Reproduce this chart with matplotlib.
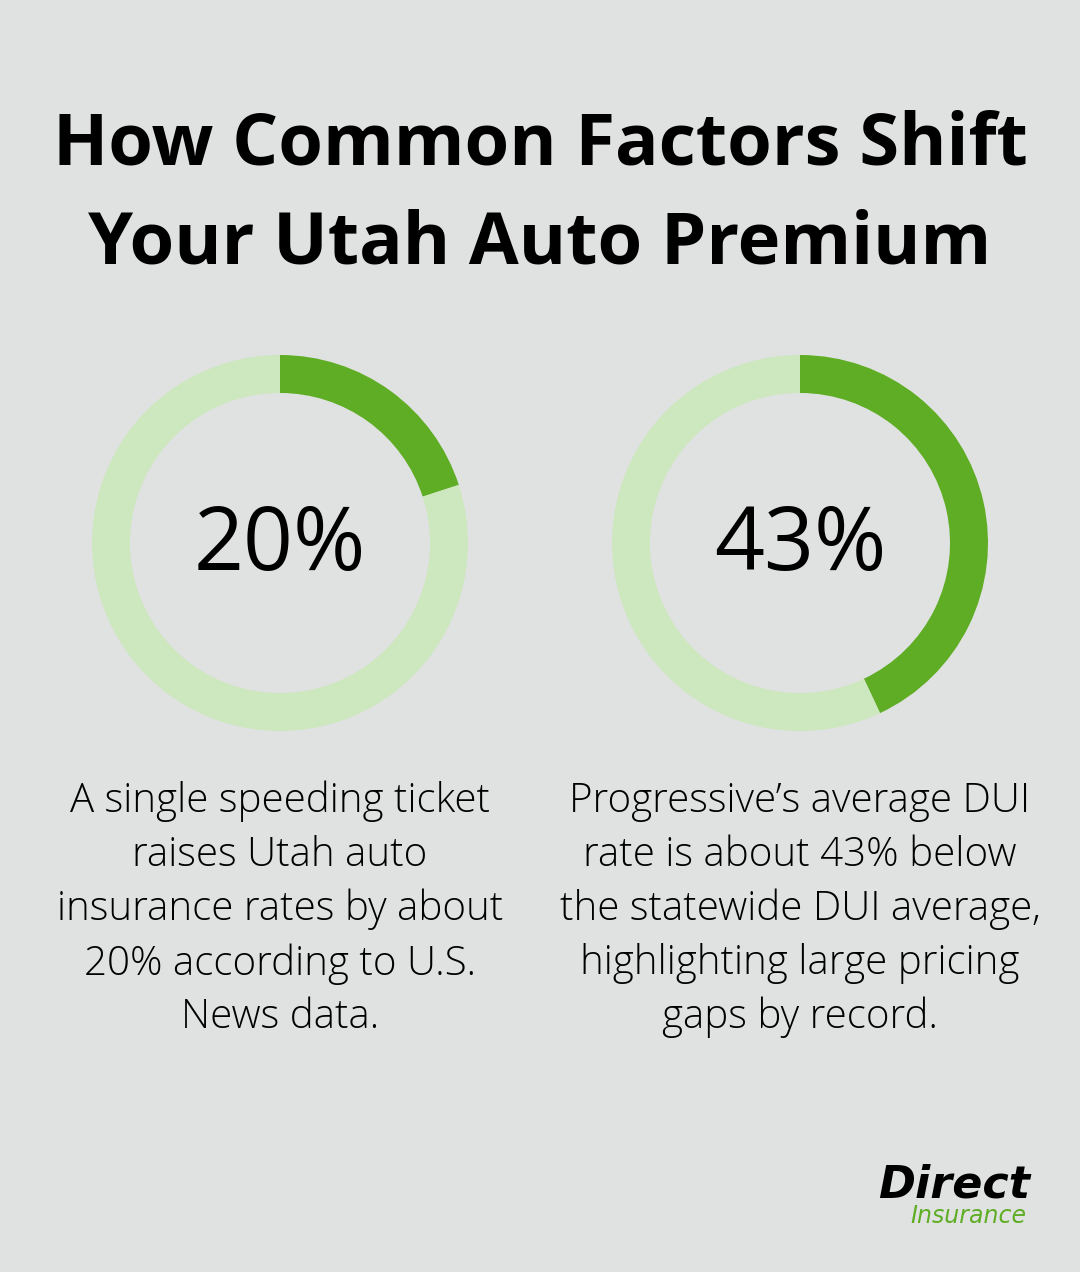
import matplotlib
matplotlib.use("Agg")
import matplotlib.pyplot as plt

title = "How Common Factors Shift\nYour Utah Auto Premium"
percents = [20, 43]
labels = ["20%", "43%"]
captions = [
    "A single speeding ticket\nraises Utah auto\ninsurance rates by about\n20% according to U.S.\nNews data.",
    "Progressive\u2019s average DUI\nrate is about 43% below\nthe statewide DUI average,\nhighlighting large pricing\ngaps by record.",
]

bg = "#e0e2e1"
green = "#5fad24"
light = "#cde7be"

W, H = 1080, 1272
fig = plt.figure(figsize=(W / 100, H / 100), dpi=100, facecolor=bg)
ax = fig.add_axes([0, 0, 1, 1])

ax.text(540, H - 195, title, ha="center", va="center", fontsize=52,
        fontweight="bold", family="Open Sans", linespacing=1.48)

centers = [280, 800]
for cx, p, lab, cap in zip(centers, percents, labels, captions):
    ax.pie([p, 100 - p], colors=[green, light], startangle=90,
           counterclock=False, center=(cx, H - 543), radius=188,
           wedgeprops=dict(width=38, linewidth=0), frame=True)
    ax.text(cx, H - 547, lab, ha="center", va="center", fontsize=63,
            family="Open Sans", fontweight="medium")
    ax.text(cx, H - 909.5, cap, ha="center", va="center", fontsize=29,
            family="Open Sans", fontweight="light", linespacing=1.41)

ax.set_xlim(0, W)
ax.set_ylim(0, H)
ax.set_aspect("equal")
ax.axis("off")

ax.text(1030, H - 1185, "Direct", ha="right", va="center", fontsize=32,
        fontweight="heavy", style="italic", family="DejaVu Sans Condensed",
        color="black")
ax.text(1026, H - 1216, "Insurance", ha="right", va="center", fontsize=17,
        style="italic", family="DejaVu Sans Condensed", color=green)

fig.savefig("out.png", dpi=100, facecolor=bg)
